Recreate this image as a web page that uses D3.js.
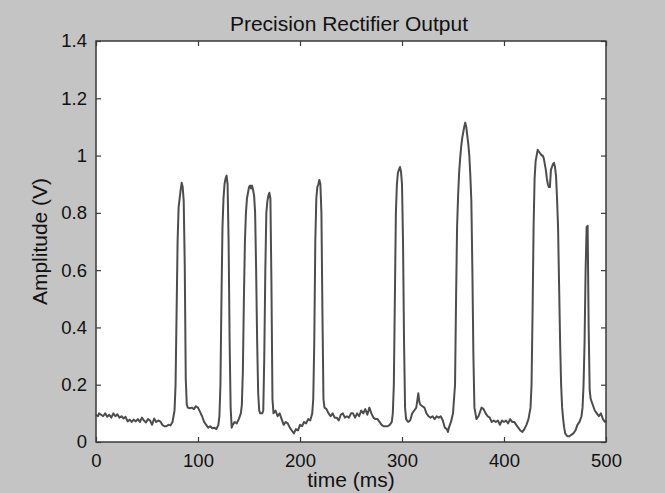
<!DOCTYPE html>
<html>
<head>
<meta charset="utf-8">
<script src="https://cdn.jsdelivr.net/npm/d3@7"></script>
<style>
  html, body { margin: 0; padding: 0; background: #c4c4c4; }
  svg { display: block; }
  text { font-family: "Liberation Sans", Arial, Helvetica, sans-serif; fill: #111; }
</style>
</head>
<body>
<svg id="chart" width="665" height="493"></svg>
<script>
const chartTitle = "Precision Rectifier Output";
const xLabel = "time (ms)";
const yLabel = "Amplitude (V)";
const xTicks = [0, 100, 200, 300, 400, 500];
const yTicks = [0, 0.2, 0.4, 0.6, 0.8, 1, 1.2, 1.4];

const timeMs = [
  0,2,3,5,7,9,11,13,15,17,19,21,23,25,27,29,31,33,35,37,39,41,43,45,47,49,51,53,55,57,59,61,63,65,67,69,71,73,75,
  77,78,79,80,81,82,83,84,85,86,87,88,89,90,92,94,96,98,100,102,104,106,108,110,112,114,116,118,120,
  121,122,123,124,125,126,127,128,129,130,131,132,133,134,136,138,140,142,
  143,144,145,146,147,148,149,150,151,152,153,154,155,156,157,158,159,160,161,162,163,
  164,165,166,167,168,169,170,171,172,173,174,176,178,180,182,184,186,188,190,192,194,196,198,200,202,204,206,208,210,
  212,213,214,215,216,217,218,219,220,221,222,223,224,226,228,230,232,234,236,238,240,242,244,246,248,250,252,254,256,258,260,262,264,266,268,270,272,274,276,278,280,282,284,286,288,290,
  291,292,293,294,295,296,297,298,299,300,301,302,303,304,306,308,310,312,314,316,317,318,320,322,324,326,328,330,332,334,336,338,340,342,344,345,346,348,350,
  351,352,353,354,355,356,357,358,359,360,361,362,363,364,365,366,367,368,369,370,371,372,373,375,377,378,380,382,384,386,388,390,392,394,396,398,400,402,404,406,408,410,412,414,416,418,420,422,424,
  426,427,428,429,430,431,432,433,434,435,436,437,438,439,440,441,442,443,444,445,446,447,448,449,450,451,452,453,454,455,456,457,458,459,460,462,464,466,468,470,472,474,476,
  477,478,479,480,481,482,483,484,485,487,489,491,493,495,497,499,500
];

const amplitudeV = [
  0.095,0.09,0.1,0.095,0.09,0.1,0.088,0.095,0.085,0.1,0.09,0.097,0.085,0.09,0.082,0.088,0.072,0.078,0.07,0.078,0.072,0.08,0.07,0.085,0.075,0.068,0.08,0.075,0.06,0.082,0.07,0.075,0.072,0.06,0.055,0.055,0.06,0.058,0.07,
  0.11,0.2,0.45,0.7,0.82,0.85,0.88,0.905,0.89,0.84,0.62,0.22,0.13,0.12,0.118,0.12,0.115,0.125,0.12,0.105,0.09,0.07,0.06,0.05,0.055,0.048,0.05,0.045,0.06,
  0.09,0.2,0.5,0.75,0.85,0.9,0.92,0.93,0.9,0.7,0.35,0.12,0.05,0.06,0.07,0.065,0.08,0.1,
  0.13,0.25,0.5,0.7,0.8,0.85,0.87,0.89,0.895,0.885,0.895,0.88,0.86,0.8,0.6,0.35,0.17,0.11,0.1,0.1,0.1,
  0.11,0.3,0.6,0.8,0.84,0.86,0.87,0.85,0.55,0.15,0.1,0.11,0.09,0.1,0.08,0.06,0.07,0.065,0.05,0.04,0.03,0.045,0.04,0.06,0.055,0.07,0.065,0.08,0.075,
  0.1,0.15,0.35,0.7,0.85,0.89,0.9,0.915,0.9,0.8,0.45,0.15,0.12,0.115,0.1,0.09,0.1,0.085,0.085,0.075,0.095,0.1,0.085,0.09,0.085,0.1,0.1,0.085,0.1,0.09,0.11,0.1,0.115,0.095,0.12,0.1,0.085,0.08,0.08,0.07,0.06,0.055,0.055,0.055,0.06,0.07,
  0.1,0.2,0.5,0.8,0.9,0.94,0.95,0.96,0.945,0.9,0.7,0.35,0.12,0.08,0.07,0.075,0.1,0.11,0.12,0.17,0.14,0.13,0.125,0.12,0.1,0.09,0.085,0.09,0.08,0.09,0.085,0.09,0.075,0.05,0.045,0.035,0.05,0.07,0.1,
  0.15,0.2,0.5,0.75,0.86,0.94,0.99,1.03,1.06,1.08,1.1,1.115,1.1,1.07,1.04,1.0,0.93,0.84,0.6,0.3,0.12,0.1,0.08,0.09,0.11,0.12,0.115,0.1,0.09,0.085,0.07,0.075,0.07,0.075,0.06,0.075,0.07,0.075,0.065,0.08,0.07,0.07,0.06,0.05,0.04,0.035,0.045,0.06,0.08,
  0.12,0.2,0.45,0.75,0.92,0.98,1.0,1.02,1.015,1.01,1.005,1.0,1.0,0.99,0.97,0.95,0.92,0.9,0.89,0.89,0.95,0.96,0.97,0.975,0.96,0.93,0.85,0.75,0.55,0.35,0.2,0.12,0.08,0.05,0.03,0.02,0.02,0.025,0.03,0.04,0.06,0.07,0.09,
  0.12,0.2,0.35,0.6,0.75,0.755,0.4,0.18,0.15,0.13,0.11,0.1,0.09,0.1,0.08,0.07,0.075
];

const margin = { left: 96, right: 665 - 606, top: 41, bottom: 493 - 442 };
const W = 665, H = 493;
const svg = d3.select("#chart");

const x = d3.scaleLinear().domain([0, 500]).range([margin.left, W - margin.right]);
const y = d3.scaleLinear().domain([0, 1.4]).range([H - margin.bottom, margin.top]);

// plot area
svg.append("rect")
  .attr("x", x(0)).attr("y", y(1.4))
  .attr("width", x(500) - x(0)).attr("height", y(0) - y(1.4))
  .attr("fill", "#ffffff");

// signal line
const data = timeMs.map((t, i) => ({ t, v: amplitudeV[i] }));
svg.append("path")
  .datum(data)
  .attr("fill", "none")
  .attr("stroke", "#4d4d4d")
  .attr("stroke-width", 2)
  .attr("stroke-linejoin", "round")
  .attr("d", d3.line().x(d => x(d.t)).y(d => y(d.v)));

const axisColor = "#3a3a3a";
const tickLen = 5;

function styleAxis(g) {
  g.select(".domain").remove();
  g.selectAll(".tick line").attr("stroke", axisColor).attr("stroke-width", 1.2);
  g.selectAll(".tick text")
    .attr("font-family", "'Liberation Sans', Arial, Helvetica, sans-serif")
    .attr("font-size", 18.5)
    .attr("fill", "#111");
}

// bottom axis (ticks inward)
svg.append("g")
  .attr("transform", `translate(0,${y(0)})`)
  .call(d3.axisBottom(x).tickValues(xTicks).tickSize(-tickLen).tickPadding(12).tickFormat(d3.format("d")))
  .call(styleAxis);

// top axis ticks (no labels)
svg.append("g")
  .attr("transform", `translate(0,${y(1.4)})`)
  .call(d3.axisTop(x).tickValues(xTicks).tickSize(-tickLen).tickFormat(""))
  .call(styleAxis);

// left axis
svg.append("g")
  .attr("transform", `translate(${x(0)},0)`)
  .call(d3.axisLeft(y).tickValues(yTicks).tickSize(-tickLen).tickPadding(9).tickFormat(d => String(+d.toFixed(1))))
  .call(styleAxis);

// right axis ticks
svg.append("g")
  .attr("transform", `translate(${x(500)},0)`)
  .call(d3.axisRight(y).tickValues(yTicks).tickSize(-tickLen).tickFormat(""))
  .call(styleAxis);

// box
svg.append("rect")
  .attr("x", x(0)).attr("y", y(1.4))
  .attr("width", x(500) - x(0)).attr("height", y(0) - y(1.4))
  .attr("fill", "none")
  .attr("stroke", axisColor)
  .attr("stroke-width", 1.5);

// title
svg.append("text")
  .attr("x", 349)
  .attr("y", 31)
  .attr("text-anchor", "middle")
  .attr("font-size", 21)
  .text(chartTitle);

// x label
svg.append("text")
  .attr("x", (x(0) + x(500)) / 2)
  .attr("y", 487)
  .attr("text-anchor", "middle")
  .attr("font-size", 21)
  .text(xLabel);

// y label
svg.append("text")
  .attr("transform", `translate(47,${(y(0) + y(1.4)) / 2}) rotate(-90)`)
  .attr("text-anchor", "middle")
  .attr("font-size", 21)
  .text(yLabel);
</script>
</body>
</html>
